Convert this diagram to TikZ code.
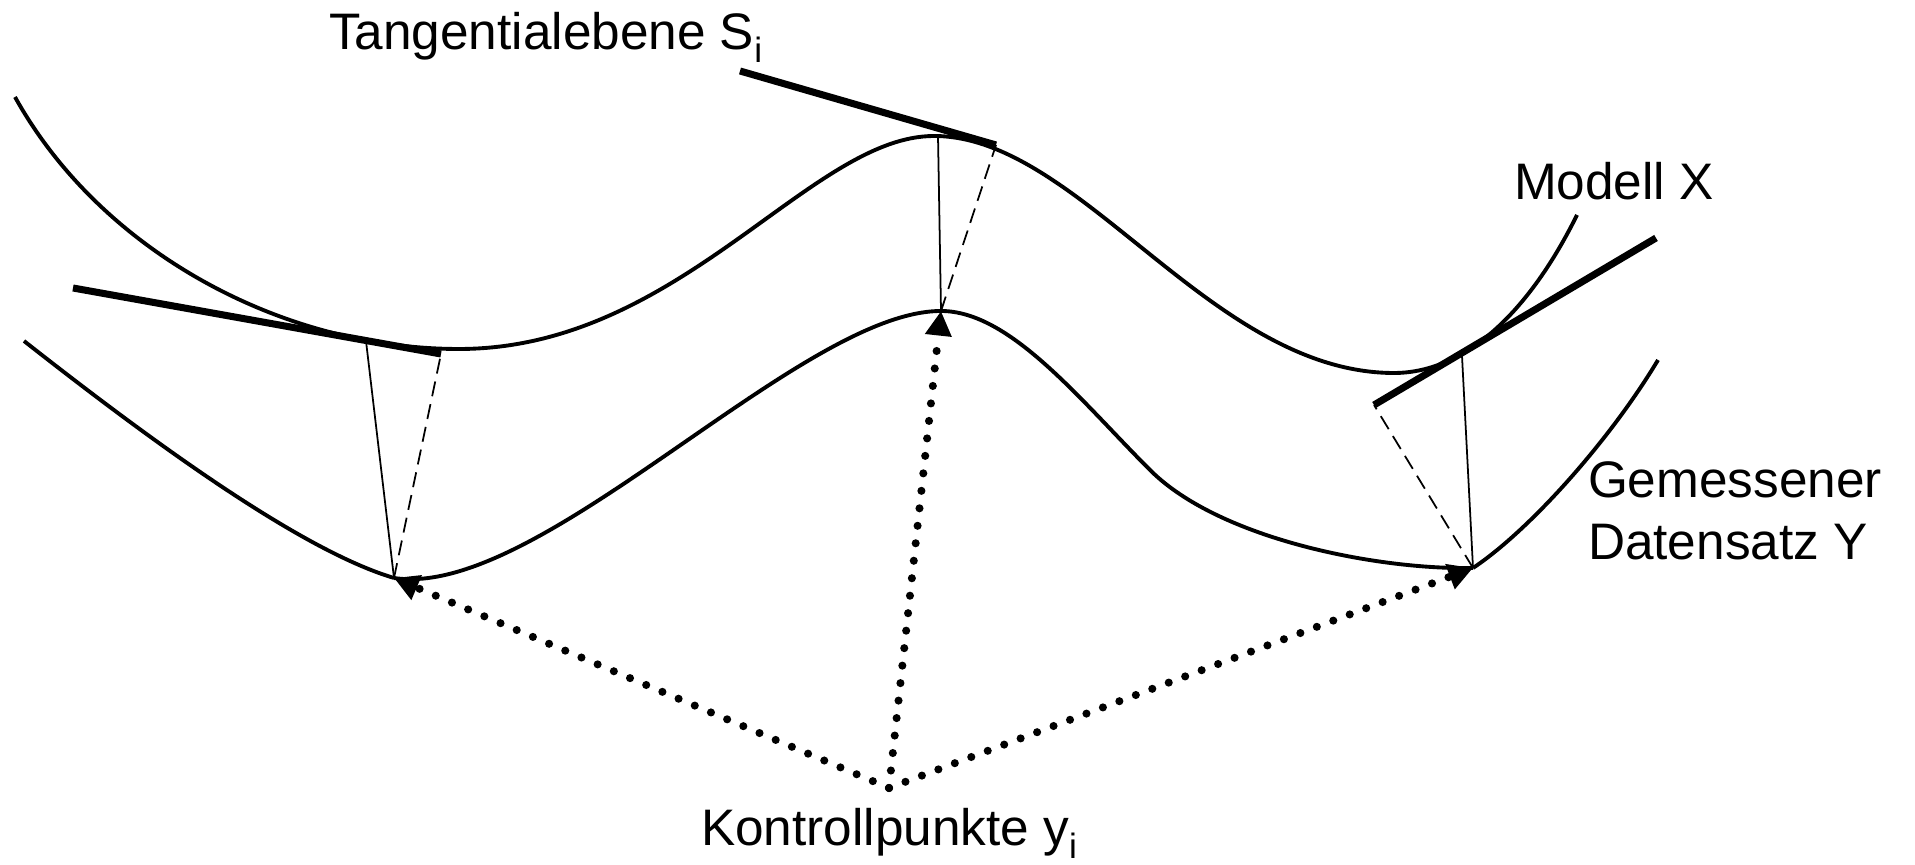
\documentclass[tikz,border=0pt]{standalone}
\usepackage{fontspec}
\setmainfont{Liberation Sans}
\usetikzlibrary{arrows.meta}
\newcommand{\subi}{\raisebox{-0.24em}{\fontsize{10pt}{12pt}\selectfont i}}
\begin{document}
\begin{tikzpicture}[x=0.01cm,y=-0.01cm,
  curve/.style={line width=1.1pt, line join=round},
  tangent/.style={line width=2pt},
  thinline/.style={line width=0.5pt},
  dashline/.style={line width=0.5pt, dash pattern=on 4.3pt off 2.3pt},
  dotarrow/.style={line width=2.3pt, line cap=round, dash pattern=on 0pt off 5pt,
     -{Triangle[length=7pt,width=7.2pt]}},
  lab/.style={font=\fontsize{14.6pt}{17.6pt}\selectfont, inner sep=0pt, outer sep=0pt}]
\useasboundingbox (0,0) rectangle (1915,865);

% control points on the measured data Y
\coordinate (A) at (394,578);
\coordinate (B) at (941,311);
\coordinate (C) at (1473,568);
\coordinate (K) at (889,788);
% feet on the model X
\coordinate (FL) at (366,341);
\coordinate (FM) at (938,136);
\coordinate (FR) at (1462,356);
% tangent plane segments
\coordinate (TL1) at (73,288);   \coordinate (TL2) at (441,354);
\coordinate (TM1) at (740,71);   \coordinate (TM2) at (996,145);
\coordinate (TR1) at (1374,405); \coordinate (TR2) at (1656,238);

% Modell X
\draw[curve] (15,97) .. controls (100,250) and (280,349) .. (459,349)
  .. controls (680,349) and (810,136) .. (934,136)
  .. controls (1080,136) and (1211,373) .. (1394,373)
  .. controls (1460,373) and (1525,320) .. (1577,215);

% Gemessener Datensatz Y
\draw[curve] (24,341) .. controls (150,440) and (300,550) .. (A);
\draw[curve] (A) .. controls (540,600) and (800,311) .. (B);
\draw[curve] (B) .. controls (1010,311) and (1080,400) .. (1150,470)
  .. controls (1220,540) and (1380,570) .. (C);
\draw[curve] (C) .. controls (1530,530) and (1610,440) .. (1658,360);

% tangent planes
\draw[tangent] (TL1) -- (TL2);
\draw[tangent] (TM1) -- (TM2);
\draw[tangent] (TR1) -- (TR2);

% closest points
\draw[thinline] (A) -- (FL);
\draw[thinline] (B) -- (FM);
\draw[thinline] (C) -- (FR);

% distances to tangent planes
\draw[dashline] (A) -- (TL2);
\draw[dashline] (B) -- (TM2);
\draw[dashline] (C) -- (TR1);

% control point arrows
\draw[dotarrow] (K) -- (A);
\draw[dotarrow] (K) -- (B);
\draw[dotarrow] (K) -- (C);

% labels
\node[lab, anchor=base west] (tang) at (329,50) {Tangentialebene S\subi};
\node[lab, anchor=base west] (modell) at (1514,200) {Modell X};
\node[lab, anchor=north west, align=left] (gem) at (1588,462) {Gemessener\\Datensatz Y};
\node[lab, anchor=base] (kontroll) at (889,846) {Kontrollpunkte y\subi};
\end{tikzpicture}
\end{document}
